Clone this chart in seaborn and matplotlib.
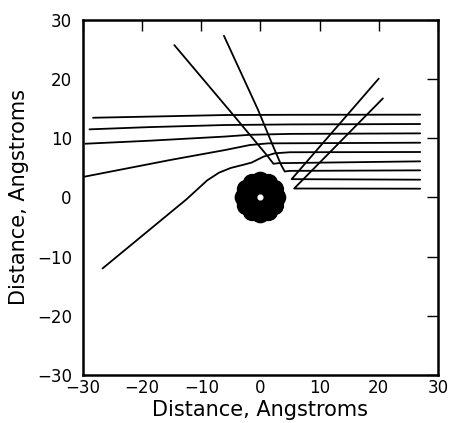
import pandas as pd
import matplotlib
matplotlib.use("Agg")
import matplotlib.pyplot as plt
from matplotlib.patches import Circle
import seaborn as sns

# trajectories (Angstroms)
traj_1_x = [-28.3, -15.0, -6.0, 5.0, 27.0]
traj_1_y = [13.48, 13.75, 13.94, 13.98, 14.0]
traj_2_x = [-28.9, -18.7, -6.0, 5.0, 27.0]
traj_2_y = [11.52, 11.9, 12.25, 12.35, 12.42]
traj_3_x = [-29.6, -18.7, -6.0, -1.8, 5.0, 27.0]
traj_3_y = [9.09, 9.6, 10.3, 10.6, 10.75, 10.84]
traj_4_x = [-29.8, -15.3, -6.0, -1.8, 1.3, 27.0]
traj_4_y = [3.51, 6.33, 8.02, 8.87, 9.15, 9.26]
traj_5_x = [-26.7, -12.5, -9.0, -7.0, -5.0, -3.0, -1.5, 0.5, 2.4, 5.0, 27.0]
traj_5_y = [-12.0, -0.3, 2.9, 4.2, 5.0, 5.5, 5.9, 6.9, 7.47, 7.65, 7.69]
traj_6_x = [-14.56, -4.8, 1.2, 2.2, 3.0, 27.0]
traj_6_y = [25.76, 14.2, 7.0, 5.7, 5.8, 6.11]
traj_7_x = [-6.17, -0.4, 2.0, 3.5, 4.1, 5.0, 27.0]
traj_7_y = [27.33, 14.8, 9.0, 5.5, 4.4, 4.5, 4.59]
traj_8_x = [20.0, 5.27, 27.0]
traj_8_y = [20.1, 3.1, 3.01]
traj_9_x = [20.7, 5.7, 27.0]
traj_9_y = [16.75, 1.52, 1.49]

# atoms of the ring at the origin
atom_x = [2.75, 2.38, 1.38, 0.0, -1.38, -2.38, -2.75, -2.38, -1.38, 0.0, 1.38, 2.38]
atom_y = [0.0, 1.38, 2.38, 2.75, 2.38, 1.38, 0.0, -1.38, -2.38, -2.75, -2.38, -1.38]

ticks = [-30, -20, -10, 0, 10, 20, 30]

all_x = [traj_1_x, traj_2_x, traj_3_x, traj_4_x, traj_5_x,
         traj_6_x, traj_7_x, traj_8_x, traj_9_x]
all_y = [traj_1_y, traj_2_y, traj_3_y, traj_4_y, traj_5_y,
         traj_6_y, traj_7_y, traj_8_y, traj_9_y]

rows = []
for i, (xs, ys) in enumerate(zip(all_x, all_y)):
    for x, y in zip(xs, ys):
        rows.append({"traj": i, "x": x, "y": y})
df = pd.DataFrame(rows)

sns.set_style("white")
plt.rcParams["font.family"] = ["DejaVu Sans"]

fig = plt.figure(figsize=(4.51, 4.23), dpi=100)
ax = fig.add_axes([0.184, 0.1135, 0.787, 0.8392])

sns.lineplot(data=df, x="x", y="y", units="traj", estimator=None, sort=False,
             color="black", linewidth=1.3, ax=ax)

# the ring: black atoms, small white hole in the middle
ax.add_patch(Circle((0, 0), 2.3, color="black", zorder=3))
for x, y in zip(atom_x, atom_y):
    ax.add_patch(Circle((x, y), 1.5, color="black", zorder=3))
ax.add_patch(Circle((0, 0), 0.4, color="white", zorder=4))

ax.set_xlim(-30, 30)
ax.set_ylim(-30, 30)
ax.set_xticks(ticks)
ax.set_yticks(ticks)
ax.set_xticklabels([str(t).replace("-", "\u2212") for t in ticks])
ax.set_yticklabels([str(t).replace("-", "\u2212") for t in ticks])
ax.tick_params(direction="in", length=8, width=1, top=True, right=True,
               labelsize=12, colors="black")
ax.tick_params(axis="x", pad=3)
ax.tick_params(axis="y", pad=8)
for s in ax.spines.values():
    s.set_linewidth(1.8)
    s.set_color("black")

ax.set_xlabel("Distance, Angstroms", fontsize=15, va="center", color="black")
ax.set_ylabel("Distance, Angstroms", fontsize=15, va="center", color="black")
ax.xaxis.set_label_coords(0.5, -0.099)
ax.yaxis.set_label_coords(-0.18, 0.5)

plt.savefig("out.png", dpi=100)
plt.close()
